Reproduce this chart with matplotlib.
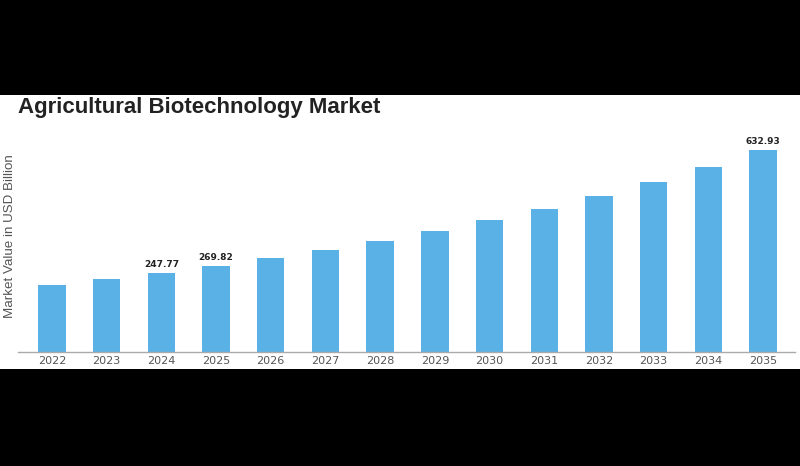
import matplotlib
matplotlib.use("Agg")
import matplotlib.pyplot as plt
from matplotlib.patches import Rectangle

years = ["2022", "2023", "2024", "2025", "2026", "2027", "2028",
         "2029", "2030", "2031", "2032", "2033", "2034", "2035"]
values = [210.2, 228.1, 247.77, 269.82, 295.0, 321.0, 349.3,
          380.6, 413.3, 449.7, 490.5, 534.4, 581.5, 632.93]
labeled = ["2024", "2025", "2035"]

title = "Agricultural Biotechnology Market"
ylabel = "Market Value in USD Billion"

fig = plt.figure(figsize=(8, 4.66), dpi=100)
fig.patch.set_facecolor("black")
# white content band
fig.patches.append(Rectangle((0, (466 - 369) / 466), 1, (369 - 95) / 466,
                             transform=fig.transFigure, facecolor="white",
                             edgecolor="none", zorder=-5))

ax = fig.add_axes([0.0225, 0.2446, 0.971, 0.476])
ax.set_facecolor("none")
x = list(range(len(years)))
ax.bar(x, values, width=0.5, color="#5AB1E6", zorder=2)
ax.set_xlim(-0.62, 13.58)
ax.set_ylim(0, max(values) * 1.1)
ax.set_xticks(x)
ax.set_xticklabels(years, fontsize=8, color="#555555")
ax.tick_params(axis="x", length=0, pad=3)
ax.set_yticks([])
for s in ["top", "right", "left"]:
    ax.spines[s].set_visible(False)
ax.spines["bottom"].set_color("#aaaaaa")
ax.spines["bottom"].set_linewidth(1.0)

for xi, yr, v in zip(x, years, values):
    if yr in labeled:
        ax.annotate(f"{v:.2f}", (xi, v), xytext=(0, 3), textcoords="offset points",
                    ha="center", va="bottom", fontsize=6.5, fontweight="bold",
                    color="#222222")

fig.text(10 / 800, 1 - 236 / 466, ylabel, rotation=90, ha="center", va="center",
         fontsize=9.6, color="#555555", family="Liberation Sans")
fig.text(18 / 800, 1 - 108 / 466, title, ha="left", va="center",
         fontsize=16, fontweight="bold", color="#222222", family="Liberation Sans")

fig.savefig("out.png", dpi=100, facecolor=fig.get_facecolor())
